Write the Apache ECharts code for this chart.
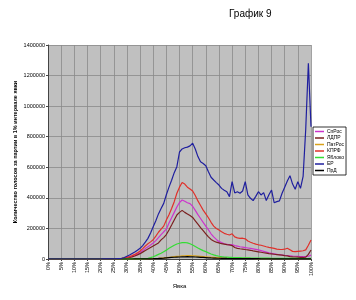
<!DOCTYPE html>
<html><head><meta charset="utf-8">
<script src="https://cdn.jsdelivr.net/npm/echarts@6/dist/echarts.min.js"></script>
<style>html,body{margin:0;padding:0;background:#fff}#c{width:356px;height:300px}</style>
</head><body><div id="c"></div>
<script>
const categories = ["0%","1%","2%","3%","4%","5%","6%","7%","8%","9%","10%","11%","12%","13%","14%","15%","16%","17%","18%","19%","20%","21%","22%","23%","24%","25%","26%","27%","28%","29%","30%","31%","32%","33%","34%","35%","36%","37%","38%","39%","40%","41%","42%","43%","44%","45%","46%","47%","48%","49%","50%","51%","52%","53%","54%","55%","56%","57%","58%","59%","60%","61%","62%","63%","64%","65%","66%","67%","68%","69%","70%","71%","72%","73%","74%","75%","76%","77%","78%","79%","80%","81%","82%","83%","84%","85%","86%","87%","88%","89%","90%","91%","92%","93%","94%","95%","96%","97%","98%","99%","100%"];
const seriesNames = ["СпРос","ЛДПР","ПатРос","КПРФ","Яблоко","ЕР","ПрД"];
const yTicks = [0,200000,400000,600000,800000,1000000,1200000,1400000];

const spros = [0,0,0,0,0,0,0,0,0,0, 0,0,0,0,0,0,0,0,0,0,
0,100,200,300,400,600,1000,1600,3000,5000,
9000,13000,18000,25000,33000,43000,55000,68000,80000,92000,
105000,120000,140000,160000,178000,195000,235000,270000,305000,340000,
370000,386000,378000,368000,362000,345000,318000,290000,265000,240000,
215000,190000,165000,145000,128000,115000,108000,100000,96000,92000,
95000,88000,84000,80000,78000,75000,72000,69000,66000,63000,
60000,55000,50000,45000,40000,37000,34000,31000,28000,26000,
24000,23000,21000,19000,18000,17000,16000,15000,15000,18000,
25000];
const ldpr = [0,0,0,0,0,0,0,0,0,0, 0,0,0,0,0,0,0,0,0,0,
0,100,150,250,400,600,900,1400,2000,4000,
7000,10000,14000,20000,27000,35000,45000,55000,65000,75000,
85000,95000,105000,125000,140000,160000,190000,222000,255000,288000,
305000,318000,305000,295000,285000,272000,250000,228000,205000,185000,
165000,145000,128000,118000,110000,105000,100000,97000,94000,92000,
88000,75000,70000,67000,65000,62000,60000,57000,53000,50000,
47000,44000,41000,38000,35000,33000,31000,29000,27000,25000,
22000,20000,16000,14000,13000,12000,11000,10000,12000,30000,
59000];
const patros = [0,0,0,0,0,0,0,0,0,0, 0,0,0,0,0,0,0,0,0,0,
0,0,0,0,0,0,0,0,50,80,
100,150,200,300,400,500,700,900,1200,1600,
2000,3000,4000,5500,7000,9000,11000,13000,15000,17000,
18000,20000,21000,22000,22000,21000,20000,18500,17000,15500,
14000,12500,11000,10000,9000,8000,7000,6300,5700,5200,
5000,4700,4400,4100,3900,3700,3500,3300,3200,3100,
3000,2900,2800,2700,2600,2500,2400,2300,2200,2100,
2000,2000,1900,1900,1800,1800,1800,1700,1700,1800,
2000];
const kprf = [0,0,0,0,0,0,0,0,0,0, 0,0,0,0,0,0,0,0,0,0,
0,100,200,300,500,800,1200,2000,4000,7000,
11000,16000,22000,30000,40000,52000,68000,85000,100000,112000,
126000,150000,175000,195000,215000,255000,290000,330000,375000,430000,
470000,500000,490000,470000,458000,445000,415000,380000,350000,320000,
295000,270000,240000,215000,200000,190000,178000,168000,162000,157000,
165000,145000,138000,135000,136000,132000,118000,110000,103000,97000,
93000,90000,85000,80000,76000,73000,69000,65000,63000,62000,
64000,70000,60000,50000,48000,50000,52000,54000,60000,90000,
124000];
const yabloko = [0,0,0,0,0,0,0,0,0,0, 0,0,0,0,0,0,0,0,0,0,
0,0,0,0,0,100,200,300,500,700,
300,400,500,700,900,1200,2000,3000,5000,9000,
15000,22000,30000,38000,48000,58000,70000,80000,90000,98000,
103000,107000,108000,105000,100000,92000,82000,72000,63000,55000,
48000,40000,33000,27000,22000,18000,15000,13000,12000,11000,
10000,9500,9000,8500,8000,7600,7200,6800,6500,6200,
6000,5800,5600,5400,5200,5000,4800,4600,4400,4200,
4000,3900,3800,3700,3600,3500,3400,3300,3300,3500,
5000];
const er = [0,0,0,0,0,0,0,0,0,0, 0,0,0,0,0,0,0,0,0,0,
0,200,300,500,800,1200,2000,3000,5000,10000,
18000,26000,36000,46000,58000,70000,88000,110000,135000,170000,
211000,250000,295000,330000,364000,420000,470000,515000,565000,604000,
700000,720000,728000,732000,740000,757000,720000,670000,636000,625000,
610000,571000,535000,517000,500000,484000,462000,450000,440000,408000,
506000,432000,440000,430000,445000,506000,420000,397000,382000,410000,
440000,419000,434000,382000,420000,451000,368000,375000,380000,430000,
470000,510000,545000,490000,456000,506000,462000,540000,850000,1280000,
865000];
const prd = [0,0,0,0,0,0,0,0,0,0, 0,0,0,0,0,0,0,0,0,0,
0,0,0,0,0,0,0,0,0,0,
50,100,150,200,300,400,500,700,900,1400,
2000,2800,3600,4500,5500,7000,8500,10000,11500,12500,
13000,14000,14500,15000,14500,14000,13000,12000,11000,10000,
9000,8000,7000,6200,5500,5000,4400,3900,3500,3200,
3000,2800,2600,2500,2400,2300,2200,2100,2000,1900,
1800,1700,1600,1500,1500,1400,1400,1300,1300,1200,
1200,1100,1100,1000,1000,1000,900,900,900,1000,
1200];

const dataSets = [spros, ldpr, patros, kprf, yabloko, er, prd];
const colors = ["#cc33cc","#7a1f1f","#d9a21b","#e0302a","#33dd33","#1f1f9e","#000000"];

const chart = echarts.init(document.getElementById('c'), null, {renderer:'canvas'});
chart.setOption({
  animation:false,
  backgroundColor:'#ffffff',
  title:{text:'График 9', left:224, top:4, textStyle:{fontFamily:'Arial, Liberation Sans', fontSize:10, fontWeight:'normal', color:'#000'}},
  legend:{
    orient:'vertical', left:313, top:127, data:seriesNames,
    icon:'rect', itemWidth:9, itemHeight:1.5, itemGap:1.5,
    padding:[2,2,2,2], borderColor:'#000', borderWidth:0.8, backgroundColor:'#fff',
    textStyle:{fontSize:5, color:'#000', fontFamily:'Arial, Liberation Sans', padding:[0,0,0,-2]}
  },
  grid:{left:48, right:45, top:45, bottom:41, show:true, backgroundColor:'#c0c0c0', borderWidth:0},
  xAxis:{
    type:'category', data:categories, boundaryGap:false,
    name:'Явка', nameLocation:'middle', nameGap:24, nameMoveOverlap:false,
    nameTextStyle:{fontSize:6, color:'#000', fontFamily:'Arial, Liberation Sans'},
    axisLine:{lineStyle:{color:'#444', width:1}},
    axisTick:{interval:4, length:2, lineStyle:{color:'#444'}},
    axisLabel:{interval:4, rotate:90, fontSize:5.5, color:'#000', margin:3, fontFamily:'Arial, Liberation Sans'},
    splitLine:{show:true, interval:4, lineStyle:{color:'#8a8a8a', width:0.8}}
  },
  yAxis:{
    type:'value', min:yTicks[0], max:yTicks[yTicks.length-1], interval:200000,
    name:'Количество голосов за партии в 1% интервале явки', nameLocation:'middle', nameGap:30, nameRotate:90,
    nameMoveOverlap:false,
    nameTextStyle:{fontSize:5.5, fontWeight:'bold', color:'#000', fontFamily:'Arial, Liberation Sans'},
    axisLine:{show:true, lineStyle:{color:'#444', width:1}},
    axisTick:{show:true, length:2, lineStyle:{color:'#444'}},
    axisLabel:{fontSize:5.5, color:'#000', margin:3, fontFamily:'Arial, Liberation Sans', formatter:function(v){return String(v);}},
    splitLine:{show:true, lineStyle:{color:'#8a8a8a', width:0.8}}
  },
  series: seriesNames.map((n,i)=>({
    name:n, type:'line', data:dataSets[i], symbol:'none', smooth:false,
    lineStyle:{color:colors[i], width:1.2}, itemStyle:{color:colors[i]},
    z: (n==='ЕР')?10:5
  }))
});
</script></body></html>
